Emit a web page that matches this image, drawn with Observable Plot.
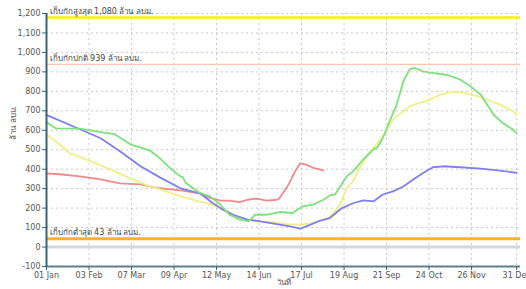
<!DOCTYPE html>
<html><head><meta charset="utf-8">
<script src="https://cdn.jsdelivr.net/npm/d3@7"></script>
<script src="https://cdn.jsdelivr.net/npm/@observablehq/plot@0.6"></script>
<style>body{margin:0;background:#fff}</style>
</head><body><div id="chart"></div>
<script>
// ---- data ----
const yTicks = [-100,0,100,200,300,400,500,600,700,800,900,1000,1100,1200];
const xTickDates = ["01-01","02-03","03-07","04-09","05-12","06-14","07-17","08-19","09-21","10-24","11-26","12-31"];

const refValues = [1180, 939, 43, 0];
const refLabels = ["เก็บกักสูงสุด 1,080 ล้าน ลบม.", "เก็บกักปกติ 939 ล้าน ลบม.", "เก็บกักต่ำสุด 43 ล้าน ลบม.", ""];
const refColors = ["#f4f400", "#f9c9ae", "#ffb12e", "#cfd9e0"];
const refWidths = [2.5, 1.2, 3, 3];

const blueDates = ["01-01","01-04","01-27","02-12","02-27","03-14","03-29","04-14","04-29","05-09","05-17","05-25","06-05","06-15","06-23","06-30","07-08","07-16","07-24","07-31","08-08","08-17","08-26","09-03","09-11","09-18","09-26","10-04","10-12","10-19","10-27","11-04","11-17","12-03","12-18","12-31"];
const blueValues = [678,670,605,559,492,415,358,302,276,226,192,166,141,132,123,115,106,94,115,135,149,199,225,240,235,270,286,311,348,379,410,415,410,403,393,381];

const greenDates = ["01-01","01-08","01-27","02-12","02-23","03-06","03-21","03-29","04-06","04-14","04-16","04-18","04-29","05-07","05-15","05-22","05-30","06-06","06-11","06-20","06-30","07-10","07-18","07-26","08-03","08-08","08-12","08-16","08-21","08-26","09-03","09-11","09-14","09-18","09-24","09-29","10-04","10-09","10-13","10-19","10-25","11-07","11-17","11-25","12-03","12-08","12-13","12-20","12-28","12-31"];
const greenValues = [641,610,608,590,580,528,497,456,405,363,358,330,278,260,218,166,141,132,166,166,180,175,209,218,243,265,270,311,363,389,451,502,513,559,656,734,852,913,920,903,896,884,861,827,784,732,681,638,604,585];

const yellowDates = ["01-01","01-11","01-19","02-04","02-19","03-06","03-17","03-29","04-14","04-29","05-09","05-17","05-25","06-05","06-15","06-25","07-06","07-16","07-26","08-06","08-10","08-16","08-21","08-26","08-31","09-07","09-14","09-20","09-26","10-04","10-09","10-17","10-25","11-02","11-12","11-19","11-30","12-08","12-18","12-28","12-31"];
const yellowValues = [579,528,482,441,400,353,322,297,260,233,218,192,158,141,132,128,118,115,123,149,168,219,302,338,405,482,533,585,656,698,724,741,758,784,798,793,776,758,732,698,680];

const redDates = ["01-01","01-11","01-27","02-12","02-27","03-14","03-29","04-14","04-29","05-07","05-15","05-22","05-30","06-05","06-12","06-20","06-28","06-30","07-07","07-12","07-16","07-20","07-27","08-03"];
const redValues = [379,374,363,348,327,322,302,291,276,252,238,238,231,243,249,238,243,252,322,389,430,425,405,394];

// ---- build ----
const YEAR = "2020";
const toDate = s => new Date(`${YEAR}-${s}T00:00:00Z`);
const mk = (dates, values) => dates.map((d, i) => ({date: toDate(d), value: values[i]}));
const series = [
  {data: mk(redDates, redValues), color: "#f08a8a"},
  {data: mk(yellowDates, yellowValues), color: "#f0ef84"},
  {data: mk(blueDates, blueValues), color: "#7f7ff0"},
  {data: mk(greenDates, greenValues), color: "#7fe07f"}
];
const xTicks = xTickDates.map(toDate);
const xStart = toDate("01-01");
const xEnd = new Date("2021-01-03T00:00:00Z");
const refs = refValues.map((v, i) => ({value: v, label: refLabels[i], color: refColors[i], width: refWidths[i]}));

const font = "DejaVu Sans, Noto Sans, sans-serif";
const axisColor = "#3b6176";

const chart = Plot.plot({
  width: 526, height: 289,
  marginLeft: 46, marginRight: 6, marginTop: 13, marginBottom: 23,
  style: {fontFamily: font, fontSize: "8px", color: "#555", background: "#fff"},
  x: {type: "utc", domain: [xStart, xEnd]},
  y: {domain: [-100, 1200]},
  marks: [
    Plot.gridX(xTicks, {stroke: "#c8c8c8", strokeOpacity: 1, strokeDasharray: "2,3"}),
    Plot.gridY(yTicks, {stroke: "#c8c8c8", strokeOpacity: 1, strokeDasharray: "2,3"}),
    ...refs.map(r => Plot.ruleY([r.value], {stroke: r.color, strokeWidth: r.width})),
    Plot.text(refs.filter(r => r.label), {x: () => xStart, y: "value", text: "label", textAnchor: "start", dx: 3, dy: -6, fill: "#444", fontSize: 8}),
    ...series.map(s => Plot.line(s.data, {x: "date", y: "value", stroke: s.color, strokeWidth: 1.8, curve: "linear"})),
    Plot.axisX(xTicks, {tickFormat: "%d %b", tickSize: 4, tickPadding: 2, stroke: axisColor, label: null, fill: "#555"}),
    Plot.axisY(yTicks, {tickFormat: d => d.toLocaleString("en-US"), tickSize: 4, tickPadding: 2, stroke: axisColor, label: null, fill: "#555"}),
    Plot.ruleX([xStart], {stroke: axisColor, strokeWidth: 2}),
    Plot.ruleY([-100], {stroke: axisColor, strokeWidth: 2, strokeOpacity: 0.8}),
    Plot.text(["ล้าน ลบม."], {frameAnchor: "left", dx: -33, rotate: -90, fill: "#555", fontSize: 8}),
    Plot.text(["วันที่"], {frameAnchor: "bottom", dy: 18, fill: "#555", fontSize: 8})
  ]
});
document.getElementById("chart").appendChild(chart);
</script>
</body></html>
